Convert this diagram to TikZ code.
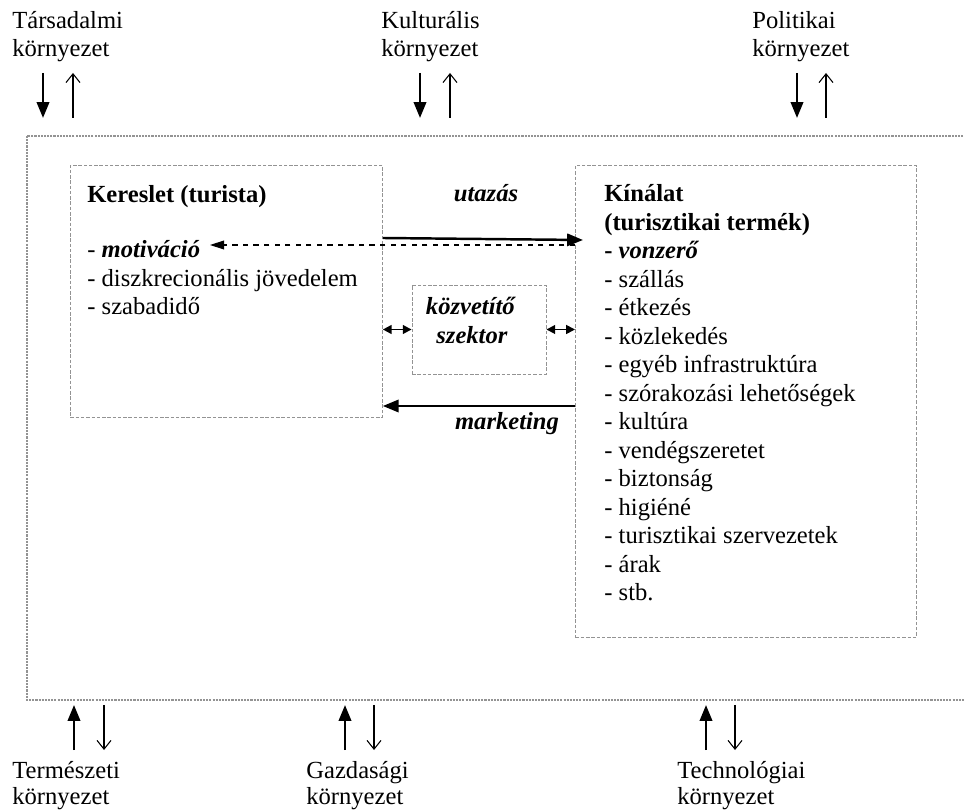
\documentclass[tikz,border=0pt]{standalone}
\usepackage{fontspec}
\setmainfont{Liberation Serif}
\usetikzlibrary{arrows.meta}

\tikzset{
  boxline/.style={draw=gray!85, dash pattern=on 2pt off 1pt, line width=0.5pt},
  frameline/.style={draw=gray!85, dash pattern=on 1.2pt off 0.6pt, line width=0.6pt},
  lbl/.style={anchor=base west, inner sep=0pt, font=\fontsize{14}{16}\selectfont},
  inflow/.style={line width=1.4pt, -{Triangle[length=9pt,width=7pt]}},
  outflow/.style={line width=0.6pt, -{Straight Barb[length=5pt,width=8pt]}},
  backflow/.style={line width=0.6pt, dashed, -{Triangle[length=8pt,width=5pt]}},
  twoway/.style={line width=1pt, {Triangle[length=5pt,width=5pt]}-{Triangle[length=5pt,width=5pt]}},
}

\begin{document}
\begin{tikzpicture}[x=0.02cm, y=-0.02cm]
  \useasboundingbox (0,0) rectangle (964,810);

  % Outer system frame (runs past the right edge)
  \draw[frameline] (27,136) rectangle (1000,700);

  % Environment labels, top row
  \foreach \name/\word/\x in {tars/Társadalmi/12, kult/Kulturális/381, pol/Politikai/752} {
    \node[lbl] (\name) at (\x,29) {\word};
    \node[lbl] (\name-k) at (\x,57) {környezet};
  }
  % Environment labels, bottom row
  \foreach \name/\word/\x in {term/Természeti/12, gazd/Gazdasági/306, tech/Technológiai/677} {
    \node[lbl] (\name) at (\x,778) {\word};
    \node[lbl] (\name-k) at (\x,805) {környezet};
  }

  % Exchange arrows with the environment
  \foreach \xd/\xu [count=\i] in {43/73, 420/450, 797/826} {
    \coordinate (tin\i) at (\xd,73);
    \coordinate (tin\i-end) at (\xd,118);
    \coordinate (tout\i) at (\xu,118);
    \coordinate (tout\i-end) at (\xu,73);
    \draw[inflow] (tin\i) -- (tin\i-end);
    \draw[outflow] (tout\i) -- (tout\i-end);
  }
  \foreach \xu/\xd [count=\i] in {74/104, 345/374, 706/735} {
    \coordinate (bin\i) at (\xu,750);
    \coordinate (bin\i-end) at (\xu,705);
    \coordinate (bout\i) at (\xd,705);
    \coordinate (bout\i-end) at (\xd,750);
    \draw[inflow] (bin\i) -- (bin\i-end);
    \draw[outflow] (bout\i) -- (bout\i-end);
  }

  % Demand, supply and intermediary boxes
  \node[boxline, minimum width=6.24cm, minimum height=5.04cm, anchor=north west] (kereslet) at (70,165) {};
  \node[boxline, minimum width=6.82cm, minimum height=9.44cm, anchor=north west] (kinalat) at (575,165) {};
  \node[boxline, minimum width=2.68cm, minimum height=1.78cm] (kozvetito) at (479,329.5) {};

  % Demand side
  \node[lbl] (ker-cim) at (87,203) {\textbf{Kereslet (turista)}};
  \node[lbl] (motiv) at (87,258) {- \textbf{\textit{motiváció}}};
  \node[lbl] (jov) at (87,287) {- diszkrecionális jövedelem};
  \node[lbl] (szabad) at (87,315) {- szabadidő};

  % Supply side
  \node[lbl] (kin-cim) at (604,202) {\textbf{Kínálat}};
  \node[lbl] (kin-cim2) at (604,230.5) {\textbf{(turisztikai termék)}};
  \node[lbl] (vonzero) at (604,259) {\textbf{- \textit{vonzerő}}};
  \foreach \item [count=\i from 3] in {szállás, étkezés, közlekedés, egyéb infrastruktúra,
      szórakozási lehetőségek, kultúra, vendégszeretet, biztonság, higiéné,
      turisztikai szervezetek, árak, stb.} {
    \node[lbl] (kin\i) at (604,{202+28.5*\i}) {- \item};
  }

  % Intermediary sector
  \node[lbl, anchor=base] (kozv1) at (471,315) {\textbf{\textit{közvetítő}}};
  \node[lbl, anchor=base] (kozv2) at (472,344) {\textbf{\textit{szektor}}};

  % Flows between demand and supply
  \coordinate (motiv-tip) at (210,245);
  \node[lbl, anchor=base] (utazas) at (486,202) {\textbf{\textit{utazás}}};
  \draw[inflow] (kereslet.east |- 0,238) -- ([xshift=0.16cm]kinalat.west |- 0,240);
  \draw[backflow] (kinalat.west |- motiv-tip) -- (motiv-tip);
  \draw[twoway] (kereslet.east |- kozvetito.west) -- (kozvetito.west);
  \draw[twoway] (kozvetito.east) -- (kinalat.west |- kozvetito.east);
  \draw[inflow] (kinalat.west |- 0,406) -- (kereslet.east |- 0,406);
  \node[lbl, anchor=base] (marketing) at (507,430) {\textbf{\textit{marketing}}};
\end{tikzpicture}
\end{document}
